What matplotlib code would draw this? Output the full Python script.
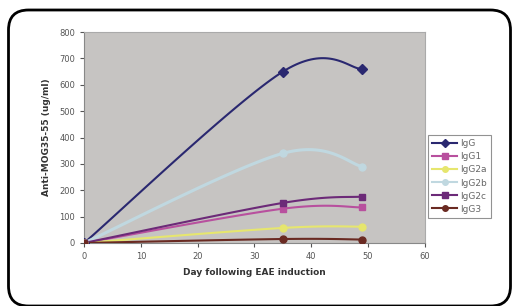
import numpy as np
import matplotlib.pyplot as plt
from matplotlib.patches import FancyBboxPatch
from matplotlib.lines import Line2D

# data (days after induction, ug/ml)
days = [0, 35, 49]
series = ['IgG', 'IgG1', 'IgG2a', 'IgG2b', 'IgG2c', 'IgG3']
igg = [0, 650, 660]
igg1 = [0, 130, 135]
igg2a = [0, 57, 62]
igg2b = [0, 340, 290]
igg2c = [0, 152, 176]
igg3 = [0, 15, 13]
values = [igg, igg1, igg2a, igg2b, igg2c, igg3]

colors = ['#2a2870', '#b8509e', '#e6e66e', '#c0d8e0', '#6c2a78', '#6a2a22']
markers = ['D', 's', 'o', 'o', 's', 'o']


def smooth(xs, ys, n=40):
    # excel-like smoothed line: cubic bezier with tangents (P[i+1]-P[i-1])/6
    p = np.column_stack([xs, ys]).astype(float)
    out = []
    for i in range(len(p) - 1):
        a, b = p[i], p[i + 1]
        ta = (p[i + 1] - p[i - 1]) / 6 if i > 0 else (b - a) / 6
        tb = (p[i + 2] - p[i]) / 6 if i + 2 < len(p) else (b - a) / 6
        c1, c2 = a + ta, b - tb
        t = np.linspace(0, 1, n)[:, None]
        seg = ((1 - t) ** 3) * a + 3 * ((1 - t) ** 2) * t * c1 + 3 * (1 - t) * t ** 2 * c2 + t ** 3 * b
        out.append(seg)
    out = np.vstack(out)
    return out[:, 0], out[:, 1]


fig = plt.figure(figsize=(5.13, 3.06), dpi=100)
fig.patch.set_facecolor('white')

# rounded frame around everything (inches)
frame = FancyBboxPatch((0.085, 0.0), 5.02, 2.96, boxstyle='round,pad=0,rounding_size=0.2',
                       transform=fig.dpi_scale_trans, facecolor='none', edgecolor='black',
                       linewidth=2.0, zorder=10)
fig.patches.append(frame)

ax = fig.add_axes([0.164, 0.206, 0.664, 0.689])
ax.set_facecolor('#c6c4c2')

handles = []
for name, ys, c, m in zip(series, values, colors, markers):
    sx, sy = smooth(days, ys)
    lw = 2.2 if name == 'IgG2b' else 1.5
    ax.plot(sx, sy, color=c, lw=lw, zorder=3)
    ax.plot(days, ys, linestyle='none', marker=m, color=c, ms=5, zorder=4)
    handles.append(Line2D([], [], color=c, lw=1.5, marker=m, ms=4, label=name))

ax.set_xlim(0, 60)
ax.set_ylim(0, 800)
ax.set_xticks(range(0, 61, 10))
ax.set_yticks(range(0, 801, 100))
ax.tick_params(labelsize=6, colors='#555555', length=3, width=0.8)
for s in ['top', 'right']:
    ax.spines[s].set_color('#aaaaaa')
for s in ['left', 'bottom']:
    ax.spines[s].set_color('#888888')

ax.set_xlabel('Day following EAE induction', fontsize=6.5, fontweight='bold', color='#333333', labelpad=5)
ax.set_ylabel('Anti-MOG35-55 (ug/ml)', fontsize=6.5, fontweight='bold', color='#333333', labelpad=6)

leg = fig.legend(handles=handles, loc='upper left', bbox_to_anchor=(0.834, 0.558),
                 fontsize=6.5, frameon=True, fancybox=False, handlelength=2.8,
                 labelspacing=0.45, borderpad=0.45, handletextpad=0.3, borderaxespad=0)
leg.get_frame().set_edgecolor('#777777')
leg.get_frame().set_linewidth(0.8)
for t in leg.get_texts():
    t.set_color('#666666')

fig.savefig('out.png', dpi=100)
